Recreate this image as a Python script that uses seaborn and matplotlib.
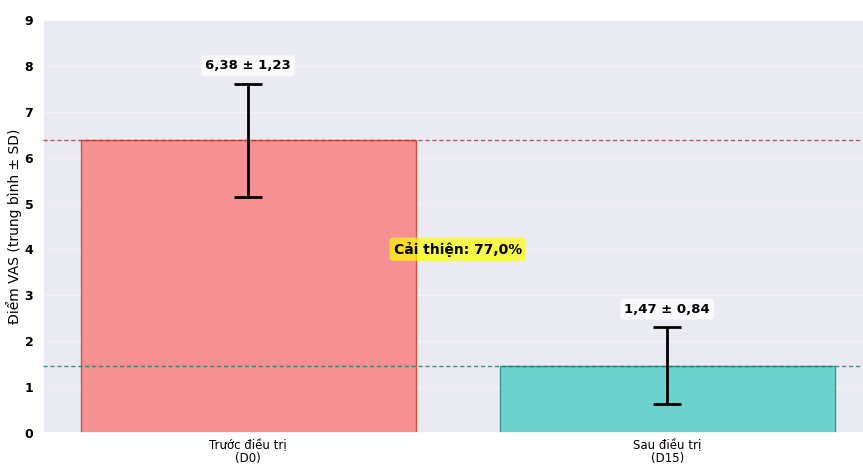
import matplotlib
matplotlib.use("Agg")
import matplotlib.pyplot as plt
import seaborn as sns
import pandas as pd

# VAS pain scores before and after treatment
categories = ["Trước điều trị\n(D0)", "Sau điều trị\n(D15)"]
means = [6.38, 1.47]
sds = [1.23, 0.84]
bar_colors = ["#F97A7C", "#4ECDC4"]
edge_colors = ["#c0392b", "#16867d"]
y_ticks = list(range(0, 10))

sns.set_theme(style="darkgrid", rc={"grid.color": "#f1f1f6",
                                    "text.color": "black",
                                    "xtick.color": "black",
                                    "ytick.color": "black",
                                    "axes.labelcolor": "black"})
plt.rcParams["font.family"] = ["DejaVu Sans"]

df = pd.DataFrame({"group": categories, "vas": means})

fig = plt.figure(figsize=(8.63, 4.67), dpi=100)
ax = fig.add_axes([43 / 863, 34 / 467, 838 / 863, 413 / 467])

sns.barplot(data=df, x="group", y="vas", hue="group", palette=bar_colors,
            legend=False, width=0.8, alpha=0.8, saturation=1, ax=ax,
            errorbar=None)
for patch, ec in zip(ax.patches, edge_colors):
    patch.set_edgecolor(ec)
    patch.set_linewidth(1.0)

xs = list(range(len(categories)))
ax.errorbar(xs, means, yerr=sds, fmt="none", ecolor="black",
            elinewidth=2, capsize=10, capthick=2, zorder=5)

for x, m, s in zip(xs, means, sds):
    label = f"{m:.2f} ± {s:.2f}".replace(".", ",")
    ax.text(x, m + s + 0.25, label, ha="center", va="bottom",
            fontsize=9.5, fontweight="bold", zorder=6,
            bbox=dict(boxstyle="round,pad=0.3", facecolor="white",
                      edgecolor="none", alpha=0.8))

ax.axhline(means[0], color="#a93226", linestyle=(0, (3, 2)), linewidth=1.0, alpha=0.8, zorder=4)
ax.axhline(means[1], color="#117a65", linestyle=(0, (3, 2)), linewidth=1.0, alpha=0.8, zorder=4)

improvement = (means[0] - means[1]) / means[0] * 100
ax.text(0.5, (means[0] + means[1]) / 2 + 0.08,
        f"Cải thiện: {improvement:.1f}%".replace(".", ","),
        ha="center", va="center", fontsize=10, fontweight="bold", zorder=6,
        bbox=dict(boxstyle="round,pad=0.3", facecolor="yellow",
                  edgecolor="none", alpha=0.7))

ax.set_xlim(-0.49, 1.51)
ax.set_ylim(0, 9)
ax.set_yticks(y_ticks)
ax.set_yticklabels([str(t) for t in y_ticks], fontweight="bold", fontsize=9)
ax.set_xticks(xs)
ax.set_xticklabels(categories, fontsize=8.5, linespacing=1.0)
ax.tick_params(axis="x", pad=-2)
ax.tick_params(axis="y", pad=1)
ax.set_xlabel("")
ax.set_ylabel("Điểm VAS (trung bình ± SD)", fontsize=10, labelpad=2)

fig.savefig("out.png", dpi=100)
